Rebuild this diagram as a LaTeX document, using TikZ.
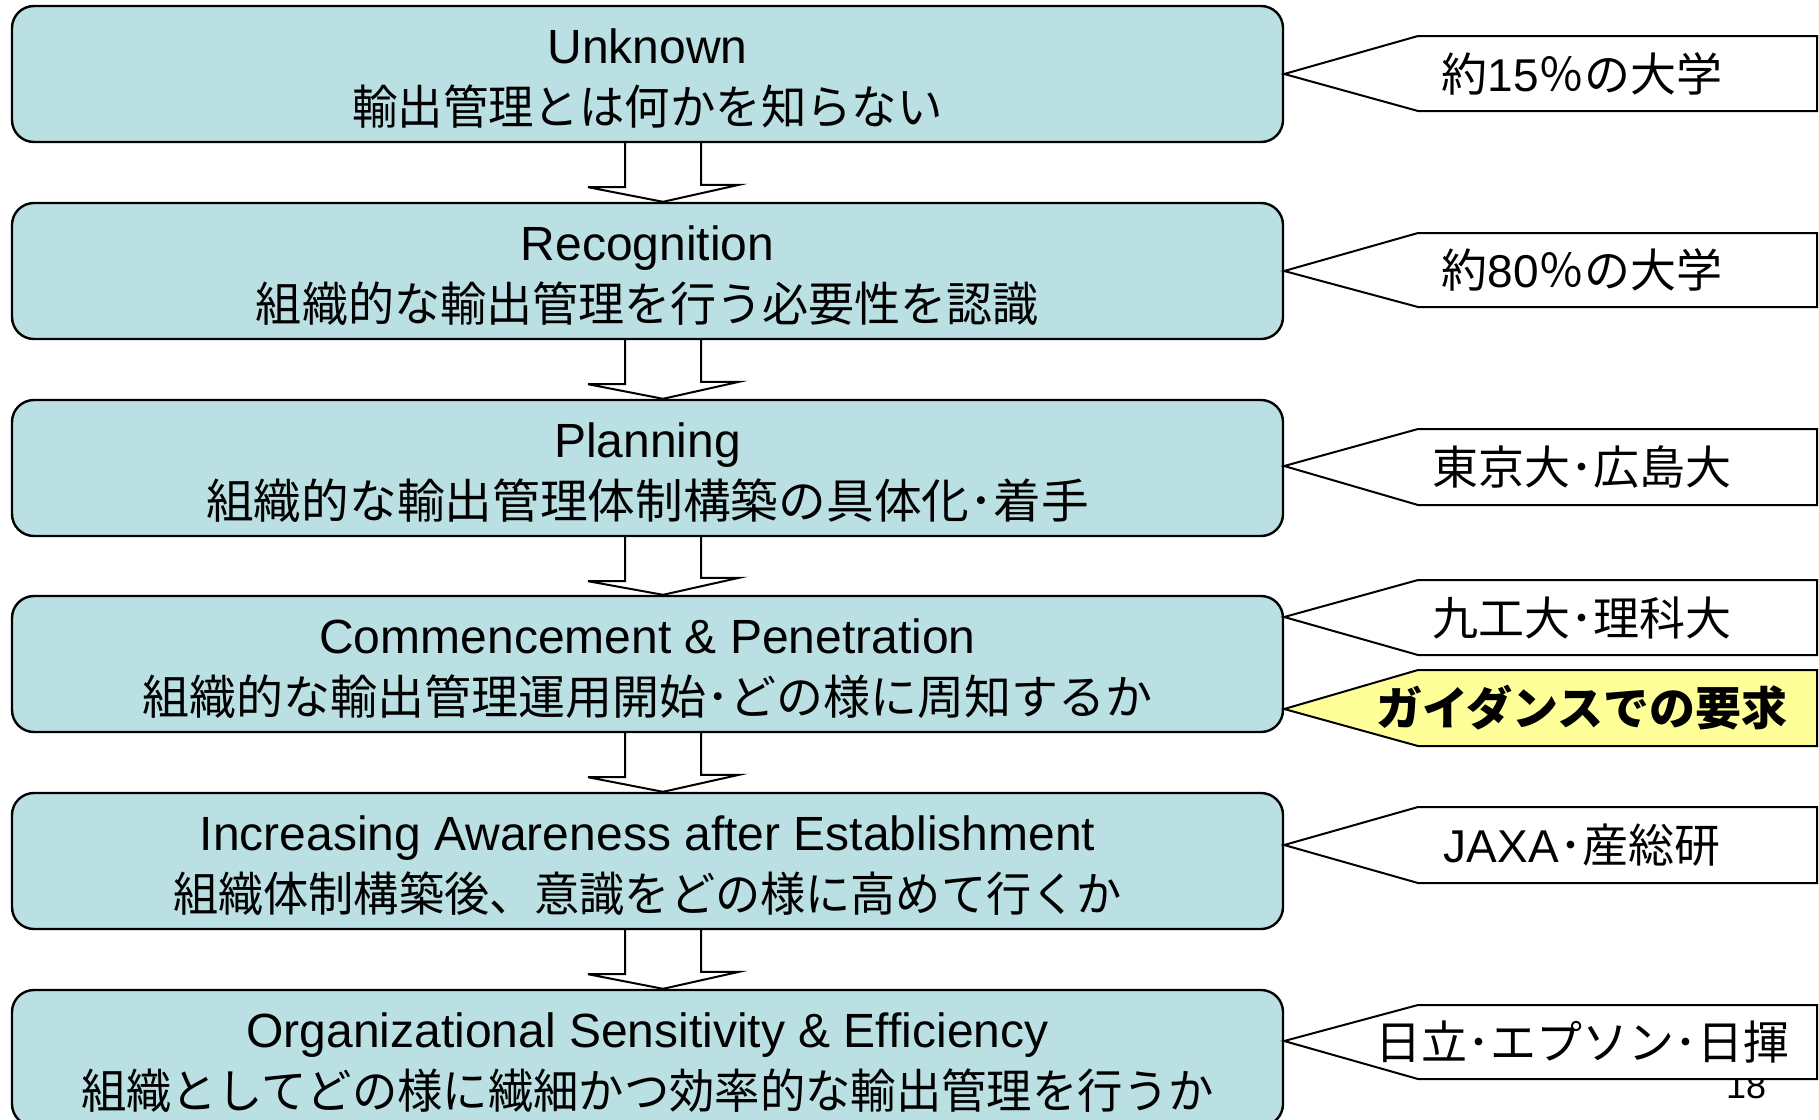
\documentclass[tikz,border=0pt]{standalone}
\usepackage{graphicx}
\usepackage{fontspec}
\setmainfont{Liberation Sans}
\newfontfamily\cjk{Noto Sans CJK JP}
\definecolor{boxblue}{RGB}{187,224,227}
\definecolor{noteyellow}{RGB}{255,255,153}
\newcommand{\jp}[2]{\scalebox{#1}[1]{\cjk\fontsize{47}{61}\selectfont #2}}
\begin{document}
\begin{tikzpicture}[x=1pt,y=-1pt,
  stage/.style={draw=black, line width=2.4pt, fill=boxblue, rounded corners=22pt,
    minimum width=1271pt, minimum height=136pt, inner sep=0pt},
  stagetext/.style={align=center, inner sep=0pt, yshift=-5pt,
    font=\fontsize{48}{61}\selectfont},
  blockarrow/.style={draw=black, line width=2pt, line join=miter},
  callout/.style={draw=black, line width=2pt, fill=white, line join=miter},
  yellowcallout/.style={callout, fill=noteyellow},
  callouttext/.style={font=\cjk\fontsize{46}{50}\selectfont, inner sep=0pt},
  pagenum/.style={font=\fontsize{36}{40}\selectfont, inner sep=0pt, anchor=base}
]
\useasboundingbox (0,0) rectangle (1819,1119);

% stages
\node[stage] (s1) at (647.5,74)   {};
\node[stage] (s2) at (647.5,271)  {};
\node[stage] (s3) at (647.5,468)  {};
\node[stage] (s4) at (647.5,664)  {};
\node[stage] (s5) at (647.5,861)  {};
\node[stage] (s6) at (647.5,1058) {};

\node[stagetext] (t1) at (s1) {Unknown\\\jp{0.966}{輸出管理とは何かを知らない}};
\node[stagetext] (t2) at (s2) {Recognition\\\jp{0.98}{組織的な輸出管理を行う必要性を認識}};
\node[stagetext] (t3) at (s3) {Planning\\\jp{1.015}{組織的な輸出管理体制構築の具体化･着手}};
\node[stagetext] (t4) at (s4) {Commencement \& Penetration\\\jp{1}{組織的な輸出管理運用開始･どの様に周知するか}};
\node[stagetext] (t5) at (s5) {Increasing Awareness after Establishment\\\jp{0.961}{組織体制構築後、意識をどの様に高めて行くか}};
\node[stagetext] (t6) at (s6) {Organizational Sensitivity \& Efficiency\\\jp{0.965}{組織としてどの様に繊細かつ効率的な輸出管理を行うか}};

% block arrows
\foreach \a/\b in {s1/s2,s2/s3,s3/s4,s4/s5,s5/s6}{
  \draw[blockarrow] ([xshift=-22.5pt]\a.south) -- ++(0,44) -- ++(-37,0)
    -- ([xshift=15.5pt]\b.north) -- ++(76,-17) -- ++(-38,0) -- ([xshift=53.5pt]\a.south);
}

% page number (partly hidden by the last callout)
\node[pagenum] (pg) at (1746,1098) {18};

% callouts
\draw[callout] (s1.east |- 0,74) -- (1418,36) -- (1817,36) -- (1817,111) -- (1418,111) -- cycle;
\node[callouttext] (c1) at (1582,73.5) {約{\rmfamily 15}％の大学};

\draw[callout] (s2.east |- 0,271) -- (1418,233) -- (1817,233) -- (1817,307) -- (1418,307) -- cycle;
\node[callouttext] (c2) at (1582,270) {約{\rmfamily 80}％の大学};

\draw[callout] (s3.east |- 0,466) -- (1418,429) -- (1817,429) -- (1817,505) -- (1418,505) -- cycle;
\node[callouttext] (c3) at (1582,467) {東京大･広島大};

\draw[callout] (s4.east |- 0,617) -- (1418,580) -- (1817,580) -- (1817,655) -- (1418,655) -- cycle;
\node[callouttext] (c4) at (1582,617.5) {九工大･理科大};

\draw[yellowcallout] (s4.east |- 0,709) -- (1418,670) -- (1817,670) -- (1817,746) -- (1418,746) -- cycle;
\node[callouttext, font=\cjk\bfseries\fontsize{46}{50}\selectfont] (c5) at (1582,708) {ガイダンスでの要求};

\draw[callout] (s5.east |- 0,845) -- (1418,807) -- (1817,807) -- (1817,883) -- (1418,883) -- cycle;
\node[callouttext] (c6) at (1582,845) {{\rmfamily JAXA}･産総研};

\draw[callout] (s6.east |- 0,1041) -- (1418,1005) -- (1817,1005) -- (1817,1079) -- (1418,1079) -- cycle;
\node[callouttext] (c7) at (1582,1042) {日立･エプソン･日揮};
\end{tikzpicture}
\end{document}
